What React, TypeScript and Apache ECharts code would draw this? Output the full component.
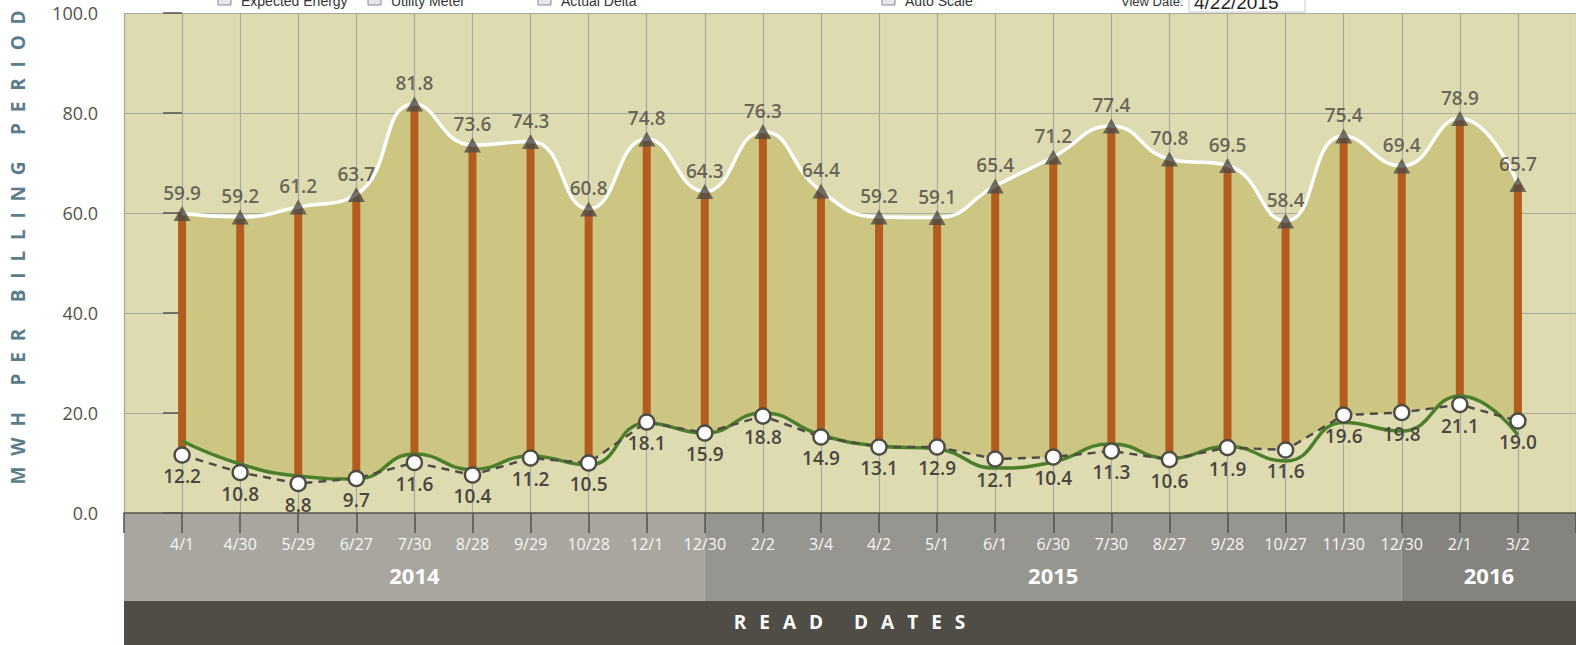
import React, { useEffect, useRef } from "react";
import * as echarts from "echarts";

// ---- data ----
const dates = ["4/1", "4/30", "5/29", "6/27", "7/30", "8/28", "9/29", "10/28", "12/1", "12/30", "2/2", "3/4", "4/2", "5/1", "6/1", "6/30", "7/30", "8/27", "9/28", "10/27", "11/30", "12/30", "2/1", "3/2"];
const years = ["2014", "2015", "2016"];
const meterValues = [59.9, 59.2, 61.2, 63.7, 81.8, 73.6, 74.3, 60.8, 74.8, 64.3, 76.3, 64.4, 59.2, 59.1, 65.4, 71.2, 77.4, 70.8, 69.5, 58.4, 75.4, 69.4, 78.9, 65.7];
const expectedValues = [14.4, 9.8, 7.4, 6.8, 11.8, 8.7, 11.4, 9.6, 18.0, 16.0, 20.0, 15.6, 13.4, 12.8, 9.0, 10.2, 13.8, 10.9, 13.3, 10.4, 18.1, 16.4, 23.4, 15.6];
const baselinePoints = [11.6, 8.1, 5.9, 6.9, 10.1, 7.6, 11.0, 10.0, 18.2, 16.0, 19.4, 15.2, 13.2, 13.2, 10.8, 11.2, 12.4, 10.7, 13.1, 12.6, 19.6, 20.1, 21.7, 18.4];
const baselineLabels = [12.2, 10.8, 8.8, 9.7, 11.6, 10.4, 11.2, 10.5, 18.1, 15.9, 18.8, 14.9, 13.1, 12.9, 12.1, 10.4, 11.3, 10.6, 11.9, 11.6, 19.6, 19.8, 21.1, 19.0];
const legendItems = ["Expected Energy", "Utility Meter", "Actual Delta", "Auto Scale"];
const viewDate = "4/22/2015";

const TITLE = "MWH PER BILLING PERIOD";
const FOOTER = "READ DATES";
const FONT = '"Open Sans", sans-serif';
const PLOT_BG = "#dfdbb0";
const DARK = "#4f4b45";

export default function App() {
  const ref = useRef<HTMLDivElement>(null);
  useEffect(() => {
    const el = ref.current!;
    const chart = echarts.init(el, null, { renderer: "svg" });
    const n = dates.length;
    const pts = (arr: number[]) => arr.map((v, i) => [i, v]);
    const breaks = [-1, ...dates.map((d, i) => (d === "12/30" ? i : -99)).filter((i) => i >= 0), n];
    const bandColors = ["#a8a69f", "#979590", "#85837e"];
    const labelStyle = { color: "#4a4641", fontSize: 19, fontWeight: 600, fontFamily: FONT };
    const smallFont = '13px "Liberation Sans", Arial, sans-serif';

    const legendX = [218, 368, 538, 882];
    const graphic: any[] = [
      { type: "rect", shape: { x: 124, y: 601, width: 1452, height: 44 }, style: { fill: "#504d46" }, z: 10 },
      { type: "text", x: 856, y: 622, z: 11, style: { text: FOOTER, fill: "#ffffff", font: `bold 19px ${FONT}`, textAlign: "center", textVerticalAlign: "middle" } },
      { type: "text", x: 18, y: 242, rotation: Math.PI / 2, z: 11, style: { text: TITLE, fill: "#5a7d8c", font: `bold 19px ${FONT}`, textAlign: "center", textVerticalAlign: "middle" } },
    ];
    legendItems.forEach((t, k) => {
      graphic.push({ type: "rect", shape: { x: legendX[k], y: -7, width: 13, height: 12 }, style: { fill: "#e6e6ee", stroke: "#8a8a8a", lineWidth: 1 }, z: 11 });
      graphic.push({ type: "text", x: legendX[k] + 23, y: 8, z: 11, style: { text: t, fill: "#333", font: '14px "Liberation Sans", Arial, sans-serif', textAlign: "left", textVerticalAlign: "bottom" } });
    });
    graphic.push({ type: "text", x: 1121, y: 8, z: 11, style: { text: "View Date:", fill: "#333", font: smallFont, textAlign: "left", textVerticalAlign: "bottom" } });
    graphic.push({ type: "rect", shape: { x: 1189, y: -12, width: 116, height: 24 }, style: { fill: "#fff", stroke: "#c8c8c8", lineWidth: 1 }, z: 11 });
    graphic.push({ type: "text", x: 1194, y: 12, z: 12, style: { text: viewDate, fill: "#222", font: '19px "Liberation Sans", Arial, sans-serif', textAlign: "left", textVerticalAlign: "bottom" } });

    const option: any = {
      animation: false,
      textStyle: { fontFamily: FONT },
      grid: [
        { left: 124, right: 0, top: 13, bottom: 132, show: true, backgroundColor: PLOT_BG, borderWidth: 0, outerBoundsMode: "none", containLabel: false },
        { left: 124, right: 0, top: 513, height: 88, show: false, outerBoundsMode: "none", containLabel: false },
      ],
      xAxis: [
        {
          type: "value", gridIndex: 0, min: -1, max: n, interval: 1, z: 3,
          axisLine: { show: true, lineStyle: { color: "#55524c", width: 1.5 } },
          axisTick: { show: true, length: 20, lineStyle: { color: "#55524c", width: 1.5 } },
          axisLabel: { margin: 23, color: "#f7f6f2", fontSize: 16, fontFamily: FONT, hideOverlap: false, showMinLabel: true, showMaxLabel: true, formatter: (v: number) => dates[v] ?? "" },
          splitLine: { show: true, lineStyle: { color: "#a9a8a0", width: 1.2 } },
        },
        { type: "value", gridIndex: 1, min: -1, max: n, show: false },
      ],
      yAxis: [
        {
          type: "value", gridIndex: 0, min: 0, max: 100, interval: 20, z: 1,
          axisLine: { show: false },
          axisTick: { show: true, length: 19, lineStyle: { color: "#55524c", width: 1.5 } },
          axisLabel: { margin: 26, color: "#55514b", fontSize: 18, fontFamily: FONT, formatter: (v: number) => v.toFixed(1) },
          splitLine: { show: true, lineStyle: { color: "#a9a8a0", width: 1.2 } },
        },
        { type: "value", gridIndex: 1, min: 0, max: 1, show: false },
      ],
      graphic,
      series: [
        {
          name: "bands", type: "line", xAxisIndex: 1, yAxisIndex: 1, data: [[-1, 0]], symbol: "none", lineStyle: { width: 0 }, silent: true, z: 0,
          markArea: {
            silent: true, z: 1,
            label: { show: true, position: "insideBottom", distance: 15, color: "#ffffff", fontSize: 22, fontWeight: "bold", fontFamily: FONT },
            data: years.map((y, k) => [{ name: y, xAxis: breaks[k], itemStyle: { color: bandColors[k] } }, { xAxis: breaks[k + 1] }]),
          },
        },
        { name: "fillUpper", type: "line", data: pts(meterValues), smooth: true, symbol: "none", lineStyle: { width: 0 }, areaStyle: { color: "#cdc682", opacity: 1 }, z: 2, silent: true },
        { name: "fillExpected", type: "line", data: pts(expectedValues), smooth: true, symbol: "none", lineStyle: { width: 0 }, areaStyle: { color: PLOT_BG, opacity: 1 }, z: 2, silent: true },
        { name: "fillBaseline", type: "line", data: pts(baselinePoints), smooth: false, symbol: "none", lineStyle: { width: 0 }, areaStyle: { color: PLOT_BG, opacity: 1 }, z: 2, silent: true },
        {
          name: "Actual Delta", type: "custom", z: 4, silent: true,
          data: dates.map((_, i) => [i, baselinePoints[i], meterValues[i]]),
          encode: { x: 0, y: [1, 2] },
          renderItem: (params: any, api: any) => {
            const x = api.value(0);
            const top = api.coord([x, api.value(2)]);
            const bot = api.coord([x, api.value(1)]);
            return { type: "rect", shape: { x: top[0] - 4, y: top[1], width: 8, height: bot[1] - top[1] }, style: { fill: "#b35c1f" } };
          },
        },
        { name: "Utility Meter", type: "line", data: pts(meterValues), smooth: true, symbol: "none", lineStyle: { color: "#ffffff", width: 3.5 }, z: 5 },
        { name: "Expected Energy", type: "line", data: pts(expectedValues), smooth: true, symbol: "none", lineStyle: { color: "#4b7f2a", width: 3.5 }, z: 5 },
        {
          name: "Baseline", type: "line", data: pts(baselinePoints), smooth: false, symbol: "circle", symbolSize: 15, showSymbol: true,
          itemStyle: { color: "#ffffff", borderColor: DARK, borderWidth: 2.5 },
          lineStyle: { color: DARK, width: 2.5, type: [8, 6] }, z: 6,
          label: { show: true, position: "bottom", distance: 3, ...labelStyle, formatter: (p: any) => baselineLabels[p.dataIndex].toFixed(1) },
        },
        {
          name: "Meter Points", type: "scatter", data: pts(meterValues), symbol: "triangle", symbolSize: [17, 15], itemStyle: { color: DARK }, z: 7,
          label: { show: true, position: "top", distance: 4, ...labelStyle, formatter: (p: any) => meterValues[p.dataIndex].toFixed(1) },
        },
      ],
    };
    chart.setOption(option);
    const applySpacing = () => {
      el.querySelectorAll("text").forEach((t) => {
        const s = (t.textContent || "").trim();
        if (s === TITLE) (t as any).style.letterSpacing = "10.8px";
        if (s === FOOTER) (t as any).style.letterSpacing = "13px";
      });
    };
    applySpacing();
    chart.on("finished", applySpacing);
    return () => chart.dispose();
  }, []);
  return <div ref={ref} style={{ position: "fixed", left: 0, top: 0, width: 1576, height: 645, background: "#ffffff" }} />;
}
